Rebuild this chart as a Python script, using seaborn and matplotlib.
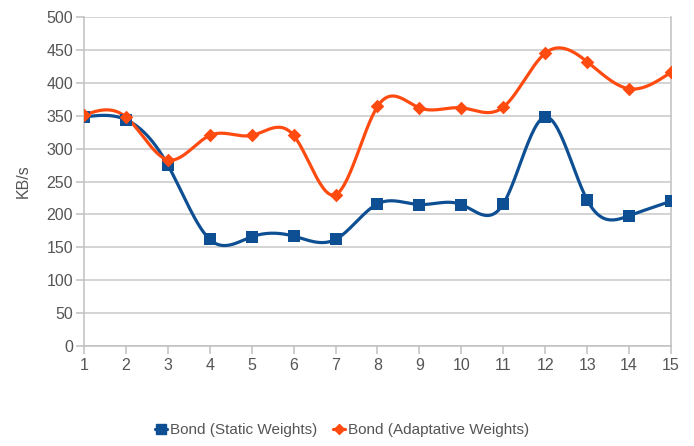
import numpy as np
import pandas as pd
import matplotlib
matplotlib.use("Agg")
import matplotlib.pyplot as plt
import seaborn as sns
from matplotlib.lines import Line2D

x_vals = list(range(1, 16))
static_w = [348, 344, 275, 162, 166, 167, 162, 216, 215, 215, 216, 348, 222, 198, 220]
adaptive_w = [351, 348, 283, 320, 320, 320, 230, 364, 362, 362, 363, 445, 432, 391, 416]
series_names = ["Bond (Static Weights)", "Bond (Adaptative Weights)"]
y_ticks = list(range(0, 501, 50))

BLUE = "#0d4f92"
ORANGE = "#ff4a10"
TXT = "#555555"


def natural_spline(x, y, n=400):
    x = np.asarray(x, float)
    y = np.asarray(y, float)
    k = len(x)
    h = np.diff(x)
    A = np.zeros((k, k))
    b = np.zeros(k)
    A[0, 0] = A[-1, -1] = 1
    for i in range(1, k - 1):
        A[i, i - 1] = h[i - 1]
        A[i, i] = 2 * (h[i - 1] + h[i])
        A[i, i + 1] = h[i]
        b[i] = 3 * ((y[i + 1] - y[i]) / h[i] - (y[i] - y[i - 1]) / h[i - 1])
    c = np.linalg.solve(A, b)
    xs = np.linspace(x[0], x[-1], n)
    ys = np.empty_like(xs)
    for j, t in enumerate(xs):
        i = min(np.searchsorted(x, t, side="right") - 1, k - 2)
        d = t - x[i]
        bi = (y[i + 1] - y[i]) / h[i] - h[i] * (2 * c[i] + c[i + 1]) / 3
        di = (c[i + 1] - c[i]) / (3 * h[i])
        ys[j] = y[i] + bi * d + c[i] * d ** 2 + di * d ** 3
    return xs, ys


sns.set_theme(style="white")
plt.rcParams["font.family"] = ["Liberation Sans", "DejaVu Sans"]

fig = plt.figure(figsize=(6.94, 4.46), dpi=100)
ax = fig.add_axes([84 / 694, 1 - 346 / 446, (671 - 84) / 694, (346 - 17) / 446])

rows = []
for name, vals in zip(series_names, [static_w, adaptive_w]):
    for xv, yv in zip(x_vals, vals):
        rows.append({"x": xv, "y": yv, "series": name})
df = pd.DataFrame(rows)

smooth_rows = []
for name, vals in zip(series_names, [static_w, adaptive_w]):
    xs, ys = natural_spline(x_vals, vals)
    for a, b in zip(xs, ys):
        smooth_rows.append({"x": a, "y": b, "series": name})
sdf = pd.DataFrame(smooth_rows)

palette = {series_names[0]: BLUE, series_names[1]: ORANGE}
sns.lineplot(data=sdf, x="x", y="y", hue="series", palette=palette, ax=ax,
             linewidth=2.3, legend=False, sort=False, zorder=3)
sns.scatterplot(data=df[df.series == series_names[0]], x="x", y="y", color=BLUE,
                marker="s", s=80, edgecolor=BLUE, linewidth=0, ax=ax, zorder=4, legend=False)
sns.scatterplot(data=df[df.series == series_names[1]], x="x", y="y", color=ORANGE,
                marker="D", s=48, edgecolor=ORANGE, linewidth=0, ax=ax, zorder=4, legend=False)

ax.set_xlim(1, 15)
ax.set_ylim(0, 500)
ax.set_xticks(x_vals)
ax.set_yticks(y_ticks)
ax.grid(axis="y", color="#c8c8c8", linewidth=1.1)
ax.grid(axis="x", visible=False)
ax.spines["top"].set_visible(False)
for s in ["left", "bottom", "right"]:
    ax.spines[s].set_color("#c0c0c0")
    ax.spines[s].set_linewidth(1.1)
ax.tick_params(axis="both", which="both", colors="#c0c0c0", labelcolor=TXT,
               labelsize=11.5, length=6, width=1.1, direction="out",
               left=True, bottom=True)
ax.tick_params(axis="x", pad=3)
ax.tick_params(axis="y", pad=2)
ax.set_xlabel("")
ax.set_ylabel("KB/s", color=TXT, fontsize=11.5)
ax.yaxis.set_label_coords(-0.09, 0.5)

handles = [
    Line2D([0], [0], color=BLUE, lw=2.3, marker="s", markersize=7),
    Line2D([0], [0], color=ORANGE, lw=2.3, marker="D", markersize=5),
]
fig.legend(handles, series_names, loc="center", bbox_to_anchor=(342 / 694, 1 - 430 / 446),
           ncol=2, frameon=False, fontsize=11, handlelength=0.8, handletextpad=0.2,
           columnspacing=1.0, labelcolor=TXT)

fig.savefig("out.png", dpi=100)
